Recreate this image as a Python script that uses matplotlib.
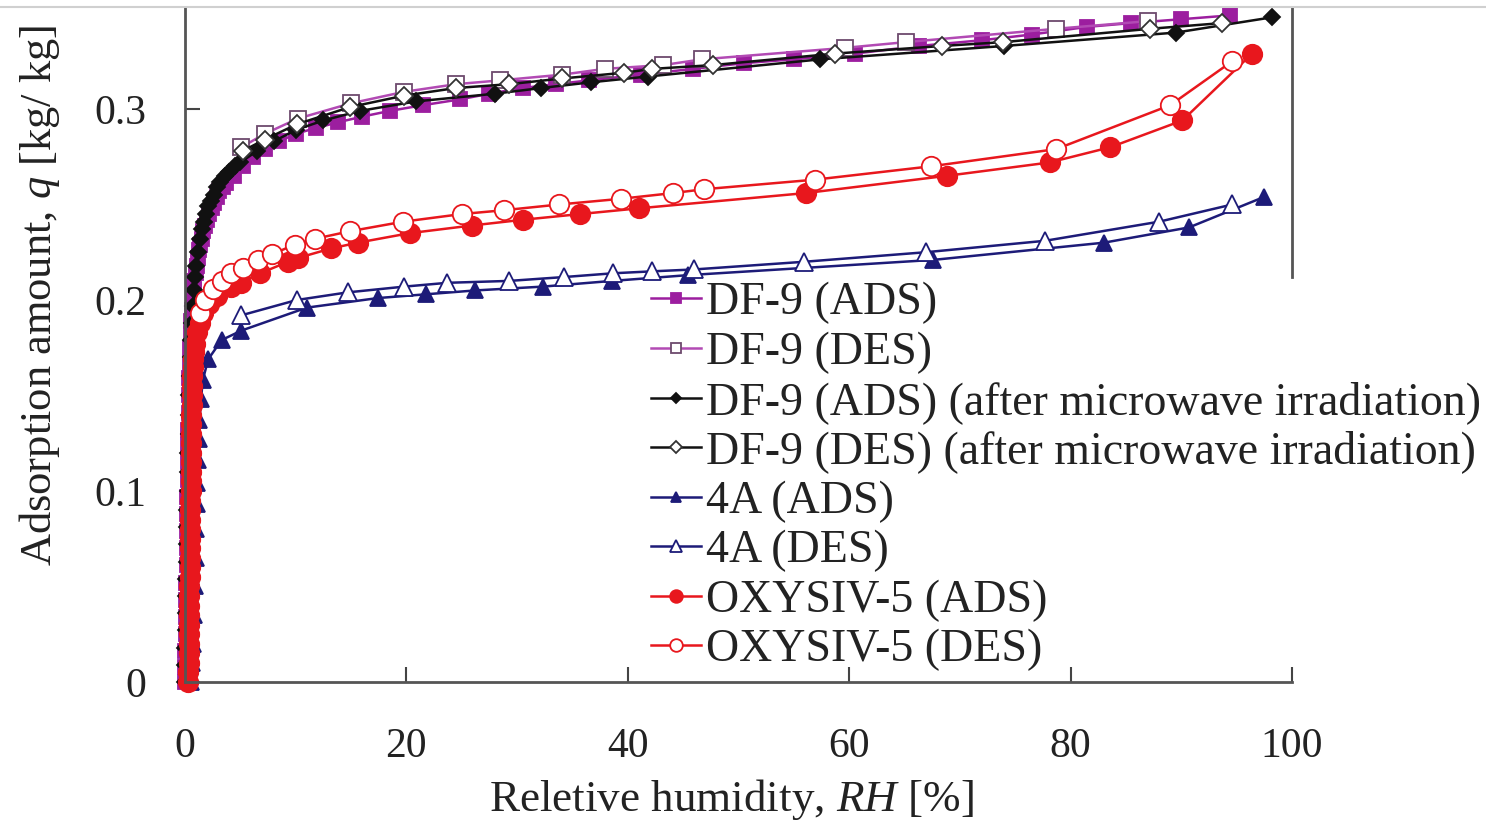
import matplotlib

matplotlib.use("Agg")
import matplotlib.pyplot as plt
from matplotlib.lines import Line2D

plt.rcParams["font.family"] = ["Liberation Serif", "DejaVu Serif"]
plt.rcParams["mathtext.fontset"] = "custom"
plt.rcParams["mathtext.rm"] = "Liberation Serif"
plt.rcParams["mathtext.it"] = "Liberation Serif:italic"

# --- data (RH [%], q [kg/kg]) ---
df9_ads_x = [0.0, 0.02, 0.04, 0.06, 0.08, 0.1, 0.12, 0.14, 0.16, 0.18, 0.2, 0.22, 0.24, 0.26, 0.28,
             0.3, 0.33, 0.36, 0.4, 0.44, 0.48, 0.53, 0.58, 0.64, 0.7, 0.77, 0.85, 0.95, 1.05, 1.15,
             1.25, 1.38, 1.5, 1.65, 1.8, 2.0, 2.15, 2.4, 2.6, 2.85, 3.1, 3.4, 3.7, 4.4, 5.2, 6.1,
             7.2, 8.5, 10.0, 11.8, 13.8, 16.0, 18.5, 21.5, 24.8, 27.5, 30.5, 33.5, 36.5, 41.2,
             45.9, 50.5, 55.0, 60.5, 66.3, 72.0, 76.5, 81.5, 85.5, 90.0, 94.4]
df9_ads_y = [0.0, 0.008, 0.016, 0.025, 0.034, 0.043, 0.052, 0.061, 0.07, 0.079, 0.088, 0.097,
             0.106, 0.115, 0.124, 0.132, 0.141, 0.15, 0.159, 0.167, 0.175, 0.182, 0.189, 0.195,
             0.2, 0.205, 0.21, 0.214, 0.218, 0.222, 0.226, 0.229, 0.232, 0.236, 0.239, 0.242,
             0.245, 0.248, 0.251, 0.254, 0.257, 0.259, 0.261, 0.265, 0.27, 0.275, 0.279, 0.283,
             0.287, 0.29, 0.293, 0.296, 0.299, 0.302, 0.305, 0.308, 0.311, 0.313, 0.315, 0.318,
             0.321, 0.324, 0.326, 0.329, 0.333, 0.336, 0.339, 0.343, 0.345, 0.347, 0.349]

df9_des_x = [5.1, 7.2, 10.2, 15.0, 19.8, 24.5, 28.5, 34.1, 37.9, 43.2, 46.7, 59.6, 65.1, 78.7, 87.0]
df9_des_y = [0.28, 0.287, 0.295, 0.303, 0.309, 0.313, 0.315, 0.318, 0.321, 0.323, 0.326, 0.332,
             0.335, 0.342, 0.346]

mw_ads_x = [0.0, 0.02, 0.04, 0.06, 0.08, 0.1, 0.12, 0.14, 0.16, 0.18, 0.2, 0.23, 0.26, 0.29, 0.32,
            0.36, 0.4, 0.45, 0.5, 0.56, 0.62, 0.7, 0.8, 0.9, 1.0, 1.15, 1.35, 1.5, 1.7, 1.9, 2.1,
            2.35, 2.6, 2.9, 3.2, 3.6, 4.0, 4.5, 5.0, 6.5, 8.0, 10.0, 12.5, 15.8, 20.9, 28.0, 32.2,
            36.7, 41.8, 57.4, 74.0, 89.5, 98.2]
mw_ads_y = [0.0, 0.009, 0.018, 0.027, 0.036, 0.045, 0.054, 0.063, 0.072, 0.081, 0.09, 0.1, 0.11,
            0.12, 0.13, 0.14, 0.15, 0.16, 0.17, 0.179, 0.188, 0.197, 0.205, 0.212, 0.218, 0.225,
            0.232, 0.237, 0.241, 0.245, 0.249, 0.252, 0.255, 0.259, 0.262, 0.265, 0.267, 0.27,
            0.272, 0.278, 0.283, 0.289, 0.294, 0.299, 0.304, 0.308, 0.311, 0.314, 0.317, 0.326,
            0.333, 0.34, 0.348]

mw_des_x = [5.2, 7.2, 10.1, 14.9, 19.8, 24.5, 29.3, 34.1, 39.7, 42.2, 47.7, 58.7, 68.4, 73.9,
            87.2, 93.7]
mw_des_y = [0.278, 0.284, 0.292, 0.301, 0.307, 0.311, 0.313, 0.316, 0.319, 0.321, 0.323, 0.329,
            0.333, 0.335, 0.342, 0.345]

a4_ads_x = [0.5, 0.6, 0.7, 0.8, 0.9, 0.95, 1.0, 1.05, 1.1, 1.2, 1.25, 1.3, 1.45, 1.6, 2.1, 3.3,
            5.1, 11.0, 17.4, 21.8, 26.2, 32.3, 38.6, 45.4, 67.6, 83.0, 90.7, 97.5]
a4_ads_y = [0.0, 0.01, 0.02, 0.035, 0.05, 0.065, 0.08, 0.093, 0.104, 0.116, 0.127, 0.137, 0.148,
            0.158, 0.169, 0.179, 0.184, 0.196, 0.201, 0.203, 0.205, 0.207, 0.21, 0.213, 0.221,
            0.23, 0.238, 0.254]

a4_des_x = [5.1, 10.1, 14.7, 19.8, 23.7, 29.3, 34.2, 38.7, 42.2, 46.0, 55.9, 66.9, 77.7, 88.0, 94.6]
a4_des_y = [0.192, 0.2, 0.204, 0.207, 0.209, 0.21, 0.212, 0.214, 0.215, 0.216, 0.22, 0.225,
            0.231, 0.241, 0.25]

oxy_ads_x = [0.3, 0.31, 0.32, 0.33, 0.34, 0.35, 0.36, 0.37, 0.38, 0.39, 0.4, 0.41, 0.42, 0.43,
             0.44, 0.45, 0.46, 0.47, 0.48, 0.49, 0.5, 0.51, 0.52, 0.53, 0.54, 0.55, 0.56, 0.57,
             0.58, 0.6, 0.62, 0.64, 0.67, 0.7, 0.75, 0.8, 0.9, 1.1, 1.35, 1.6, 2.2, 2.9, 4.2,
             5.1, 6.8, 9.3, 10.2, 13.2, 15.6, 20.3, 25.9, 30.5, 35.7, 41.0, 56.1, 68.8, 78.1,
             83.6, 90.1, 96.4]
oxy_ads_y = [0.0, 0.005, 0.01, 0.015, 0.02, 0.025, 0.03, 0.035, 0.04, 0.045, 0.05, 0.055, 0.06,
             0.065, 0.07, 0.075, 0.08, 0.085, 0.09, 0.095, 0.1, 0.105, 0.11, 0.115, 0.12, 0.125,
             0.13, 0.135, 0.14, 0.145, 0.15, 0.155, 0.16, 0.165, 0.169, 0.173, 0.177, 0.183,
             0.188, 0.193, 0.198, 0.202, 0.207, 0.209, 0.214, 0.22, 0.222, 0.227, 0.23, 0.235,
             0.239, 0.242, 0.245, 0.248, 0.256, 0.265, 0.272, 0.28, 0.294, 0.329]

oxy_des_x = [1.4, 1.8, 2.5, 3.3, 4.2, 5.2, 6.6, 7.9, 9.9, 11.7, 14.9, 19.7, 25.0, 28.8, 33.8, 39.4,
             44.1, 46.9, 56.9, 67.4, 78.7, 89.0, 94.6]
oxy_des_y = [0.193, 0.2, 0.206, 0.21, 0.214, 0.217, 0.221, 0.224, 0.229, 0.232, 0.236, 0.241,
             0.245, 0.247, 0.25, 0.253, 0.256, 0.258, 0.263, 0.27, 0.279, 0.302, 0.325]

labels = ["DF-9 (ADS)", "DF-9 (DES)",
          "DF-9 (ADS) (after microwave irradiation)", "DF-9 (DES) (after microwave irradiation)",
          "4A (ADS)", "4A (DES)", "OXYSIV-5 (ADS)", "OXYSIV-5 (DES)"]

PURPLE = "#9c1e9f"
NAVY = "#1d1b78"
RED = "#e8171d"

series = [
    (df9_ads_x, df9_ads_y, dict(color=PURPLE, marker="s", ms=10, mfc=PURPLE, mec=PURPLE)),
    (df9_des_x, df9_des_y, dict(color="#b24ab4", marker="s", ms=11, mfc="white", mec="#6d4a6d")),
    (mw_ads_x, mw_ads_y, dict(color="#111111", marker="D", ms=8, mfc="#111111", mec="#111111")),
    (mw_des_x, mw_des_y, dict(color="#111111", marker="D", ms=9, mfc="white", mec="#333333")),
    (a4_ads_x, a4_ads_y, dict(color=NAVY, marker="^", ms=12, mfc=NAVY, mec=NAVY)),
    (a4_des_x, a4_des_y, dict(color=NAVY, marker="^", ms=13, mfc="white", mec=NAVY)),
    (oxy_ads_x, oxy_ads_y, dict(color=RED, marker="o", ms=14, mfc=RED, mec=RED)),
    (oxy_des_x, oxy_des_y, dict(color=RED, marker="o", ms=14, mfc="white", mec=RED)),
]

fig = plt.figure(figsize=(14.86, 8.27), dpi=100)
ax = fig.add_axes([185 / 1486, 1 - 682 / 827, (1292 - 185) / 1486, (682 - 7) / 827])

handles = []
for (x, y, st), lab in zip(series, labels):
    (ln,) = ax.plot(x, y, lw=1.8, mew=1.3, label=lab, clip_on=False, **st)
    handles.append(ln)

ax.set_xlim(0, 100)
ax.set_ylim(0, 0.3534)
ax.set_xticks([0, 20, 40, 60, 80, 100])
ax.set_yticks([0, 0.1, 0.2, 0.3])
ax.set_yticklabels(["0", "0.1", "0.2", "0.3"])
ax.tick_params(direction="in", length=11, width=1.5, color="#444444", labelsize=30, labelcolor="#222222")
ax.tick_params(axis="x", pad=33)
ax.tick_params(axis="y", pad=28)

for side in ["left", "bottom", "right"]:
    ax.spines[side].set_color("#555555")
    ax.spines[side].set_linewidth(2)
ax.spines["top"].set_visible(False)
ax.spines["right"].set_bounds(0.212, 0.3534)

leg = ax.legend(handles=handles, loc="upper left", bbox_to_anchor=(651 / 1486, 1 - 282 / 827),
                bbox_transform=fig.transFigure, frameon=False, fontsize=33, borderpad=0,
                borderaxespad=0, handlelength=1.1, handletextpad=0.1, labelspacing=0.15,
                markerscale=0.65)
for t in leg.get_texts():
    t.set_color("#222222")

fig.text(731 / 1486, 1 - 800 / 827, "Reletive humidity, $RH$ [%]", ha="center", va="center",
         fontsize=32.5, color="#222222")
fig.text(40 / 1486, 1 - 295 / 827, "Adsorption amount, $q$ [kg/ kg]", ha="center", va="center",
         rotation=90, fontsize=32, color="#222222")

# thin grey border along the top of the image
fig.add_artist(Line2D([0, 1], [1 - 7 / 827, 1 - 7 / 827], transform=fig.transFigure,
                      color="#d0d0d0", lw=1.5))

fig.savefig("out.png", dpi=100)
